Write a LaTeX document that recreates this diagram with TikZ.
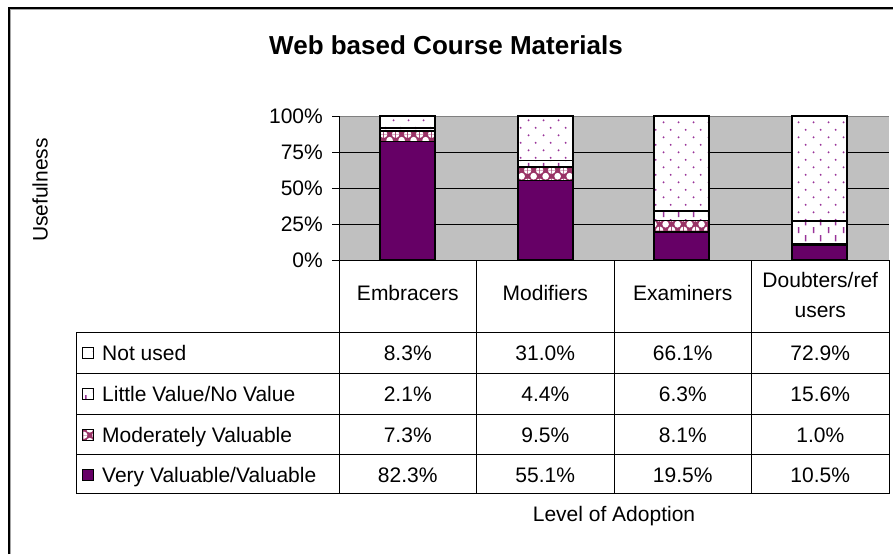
\documentclass[tikz,border=0pt]{standalone}
\usepackage{fontspec}
\setmainfont{Liberation Sans}
\usetikzlibrary{patterns.meta}
\definecolor{vv}{HTML}{660066}
\definecolor{mv}{HTML}{993366}
\definecolor{dotc}{HTML}{993399}
\definecolor{plotgray}{HTML}{C0C0C0}
\tikzdeclarepattern{name=nudots, type=uncolored,
  bottom left={(0pt,0pt)}, top right={(15pt,15.4pt)}, tile size={(15pt,15.4pt)},
  code={\fill (3.75pt,3.85pt) circle (1.1pt); \fill (11.25pt,11.55pt) circle (1.1pt);}}
\tikzdeclarepattern{name=lvdash, type=uncolored,
  bottom left={(0pt,0pt)}, top right={(15pt,16pt)}, tile size={(15pt,16pt)},
  code={\fill (2.9pt,0.8pt) rectangle (4.6pt,7.2pt); \fill (10.4pt,8.8pt) rectangle (12.1pt,15.2pt);}}
\tikzdeclarepattern{name=mvholes, type=uncolored,
  bottom left={(0pt,0pt)}, top right={(12pt,12pt)}, tile size={(12pt,12pt)},
  code={\fill (6pt,6pt) circle (3.5pt);
        \fill (0pt,0pt) -- (3.5pt,0pt) arc (0:90:3.5pt) -- cycle;
        \fill (12pt,0pt) -- (12pt,3.5pt) arc (90:180:3.5pt) -- cycle;
        \fill (0pt,12pt) -- (0pt,8.5pt) arc (270:360:3.5pt) -- cycle;
        \fill (12pt,12pt) -- (8.5pt,12pt) arc (180:270:3.5pt) -- cycle;}}
\tikzset{
  txt/.style={font=\fontsize{21}{25}\selectfont, inner sep=0pt},
  seg/.style={draw=black, line width=1.5pt},
  segvv/.style={seg, fill=vv},
  segmv/.style={seg, preaction={fill=mv}, pattern=mvholes, pattern color=white},
  seglv/.style={seg, preaction={fill=white}, pattern=lvdash, pattern color=dotc},
  segnu/.style={seg, preaction={fill=white}, pattern=nudots, pattern color=dotc},
  tline/.style={draw=black, line width=0.8pt},
  grid/.style={draw=black, line width=0.7pt}
}
\begin{document}
\begin{tikzpicture}[x=1pt,y=-1pt]
\useasboundingbox (0,0) rectangle (893,554);
\fill[white] (0,0) rectangle (893,554);
% outer frame
\draw[black, line width=1.3pt] (9,554) -- (9,8) -- (893,8);
\draw[gray!70, line width=0.6pt] (10.3,554) -- (10.3,9.3) -- (893,9.3);
% title
\node[txt, font=\fontsize{26}{30}\selectfont\bfseries] (title) at (446,45) {Web based Course Materials};
% plot area
\fill[plotgray] (339,116) rectangle (889,260);
\draw[gray, line width=0.6pt] (339,116) -- (889,116);
\foreach \yy in {152,188,224} \draw[grid] (339,\yy) -- (889,\yy);
\draw[grid] (339,116) -- (339,260);
\foreach \yy/\lab in {116/100\%,152/75\%,188/50\%,224/25\%,260/0\%}{
  \draw[grid] (332,\yy) -- (339,\yy);
  \node[txt, anchor=east] (yl\yy) at (323,\yy) {\lab};
}
% bars
\foreach \x/\a/\b/\c/\d in {380/82.3/7.3/2.1/8.3, 518/55.1/9.5/4.4/31.0, 654/19.5/8.1/6.3/66.1, 792/10.5/1.0/15.6/72.9}{
  \pgfmathsetmacro{\ya}{260-1.44*\a}
  \pgfmathsetmacro{\yb}{\ya-1.44*\b}
  \pgfmathsetmacro{\yc}{\yb-1.44*\c}
  \draw[segvv] (\x,260) rectangle ({\x+55},\ya);
  \draw[segmv] (\x,\ya) rectangle ({\x+55},\yb);
  \draw[seglv] (\x,\yb) rectangle ({\x+55},\yc);
  \draw[segnu] (\x,\yc) rectangle ({\x+55},116);
}
% table lines
\draw[tline] (332,260) -- (889,260);
\foreach \xx in {339,476.5,614,751.5,889} \draw[tline] (\xx,260) -- (\xx,493.5);
\draw[tline] (76,332) -- (76,493.5);
\foreach \yy in {332,373.5,414,454,493.5} \draw[tline] (76,\yy) -- (889,\yy);
% header
\node[txt, anchor=base] (h1) at (407.75,300) {Embracers};
\node[txt, anchor=base] (h2) at (545.25,300) {Modifiers};
\node[txt, anchor=base] (h3) at (682.75,300) {Examiners};
\node[txt, anchor=base] (h4a) at (820.25,287) {Doubters/ref};
\node[txt, anchor=base] (h4b) at (820.25,317) {users};
% legend rows
\foreach \r/\top/\sty/\lab/\va/\vb/\vc/\vd in {
  1/332/segnu/Not used/8.3\%/31.0\%/66.1\%/72.9\%,
  2/373.5/seglv/Little Value\slash No Value/2.1\%/4.4\%/6.3\%/15.6\%,
  3/414/segmv/Moderately Valuable/7.3\%/9.5\%/8.1\%/1.0\%,
  4/454/segvv/Very Valuable\slash Valuable/82.3\%/55.1\%/19.5\%/10.5\%}{
  \pgfmathsetmacro{\bl}{\top+28}
  \pgfmathsetmacro{\sy}{\top+15}
  \draw[\sty, line width=1pt] (82,\sy) rectangle (93,{\sy+11});
  \node[txt, anchor=base west] (leg\r) at (102,\bl) {\lab};
  \node[txt, anchor=base] (va\r) at (407.75,\bl) {\va};
  \node[txt, anchor=base] (vb\r) at (545.25,\bl) {\vb};
  \node[txt, anchor=base] (vc\r) at (682.75,\bl) {\vc};
  \node[txt, anchor=base] (vd\r) at (820.25,\bl) {\vd};
}
% axis titles
\node[txt] (xt) at (614,516) {Level of Adoption};
\node[txt, rotate=90] (yt) at (40,190) {Usefulness};
\end{tikzpicture}
\end{document}
